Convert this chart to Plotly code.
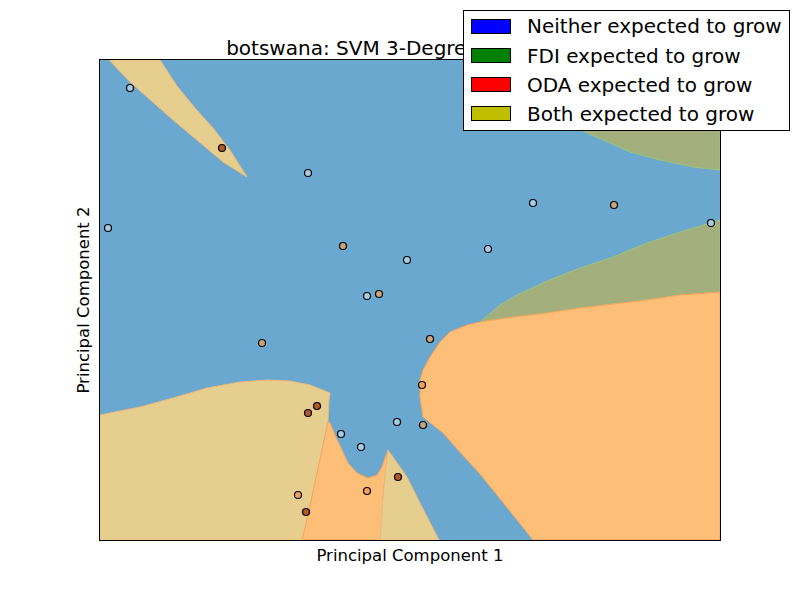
import plotly.graph_objects as go

# ---------------- data ----------------
class_names = ["Neither expected to grow", "FDI expected to grow",
               "ODA expected to grow", "Both expected to grow"]
legend_colors = ["#0000ff", "#008000", "#ff0000", "#bfbf00"]
point_colors = ["#a6cee3", "#c9a47c", "#f3a05a", "#b15928"]

point_x = [-2.80, -1.88, -1.02, -3.02, -0.67, -0.03, 0.78, 1.23, 2.04, 3.01,
           -0.43, -0.31, 0.20, -1.48, 0.12, -0.93, -1.02, -0.69, -0.49, -0.13,
           0.13, -0.12, -0.43, -1.12, -1.04]
point_y = [2.12, 1.52, 1.27, 0.72, 0.54, 0.40, 0.51, 0.97, 0.95, 0.77,
           0.04, 0.06, -0.39, -0.43, -0.85, -1.06, -1.13, -1.34, -1.47, -1.22,
           -1.25, -1.77, -1.91, -1.95, -2.12]
point_class = [0, 3, 0, 0, 1, 0, 0, 0, 1, 0,
               0, 1, 1, 1, 2, 3, 3, 0, 0, 0,
               1, 3, 2, 2, 3]

# decision regions (predicted class areas), background = class 0
region_fill = {0: "#6aa8d0", 1: "#a3b07e", 2: "#fdbf78", 3: "#e6cf8e"}
region_edge = {1: "#9cc47e", 2: "#f7a45e", 3: "#eeb87c"}

tanA_x = [-3.01, -2.50, -2.33, -2.15, -1.97, -1.80, -1.63, -1.87, -2.37, -2.80]
tanA_y = [2.40, 2.40, 2.14, 1.92, 1.72, 1.50, 1.23, 1.38, 1.80, 2.18]

oliveB_x = [0.80, 3.10, 3.10, 2.83, 2.50, 2.20, 1.75, 1.35, 1.00]
oliveB_y = [2.40, 2.40, 1.30, 1.33, 1.40, 1.48, 1.68, 1.90, 2.20]

oliveC_x = [0.70, 1.03, 1.37, 1.70, 2.03, 2.37, 2.70, 3.10, 3.10, 2.70, 2.37,
            2.03, 1.70, 1.37, 1.07, 0.90]
oliveC_y = [-0.22, -0.17, -0.13, -0.08, -0.04, 0.00, 0.05, 0.08, 0.80, 0.68, 0.57,
            0.43, 0.32, 0.19, 0.05, -0.05]

orangeD_x = [3.10, 2.70, 2.37, 2.03, 1.70, 1.37, 1.03, 0.70, 0.57, 0.40, 0.30,
             0.20, 0.13, 0.10, 0.10, 0.13, 0.23, 0.33, 0.48, 0.70, 0.95, 1.23, 3.10]
orangeD_y = [0.08, 0.05, 0.00, -0.04, -0.08, -0.13, -0.17, -0.22, -0.25, -0.32, -0.42,
             -0.57, -0.70, -0.80, -0.97, -1.17, -1.25, -1.33, -1.50, -1.74, -2.05, -2.40, -2.40]

tanE_x = [-3.10, -2.70, -2.37, -2.03, -1.70, -1.43, -1.20, -1.00, -0.80, -0.81,
          -0.82, -0.90, -0.98, -1.03, -1.08, -3.10]
tanE_y = [-1.15, -1.07, -0.98, -0.88, -0.82, -0.80, -0.81, -0.85, -0.93, -1.00,
          -1.22, -1.60, -1.97, -2.20, -2.40, -2.40]

orangeF_x = [-0.82, -0.80, -0.75, -0.68, -0.62, -0.53, -0.42, -0.33, -0.28, -0.25,
             -0.22, -0.24, -0.27, -0.30, -1.08, -1.03, -0.98, -0.90]
orangeF_y = [-1.22, -1.23, -1.35, -1.50, -1.63, -1.73, -1.78, -1.75, -1.67, -1.58,
             -1.50, -1.67, -1.97, -2.40, -2.40, -2.20, -1.97, -1.60]

tanG_x = [-0.22, -0.17, -0.03, 0.10, 0.20, 0.29, -0.30, -0.27, -0.24]
tanG_y = [-1.50, -1.57, -1.77, -2.03, -2.23, -2.40, -2.40, -1.97, -1.67]

regions = [(tanA_x, tanA_y, 3), (oliveB_x, oliveB_y, 1), (oliveC_x, oliveC_y, 1),
           (orangeD_x, orangeD_y, 2), (tanE_x, tanE_y, 3), (orangeF_x, orangeF_y, 2),
           (tanG_x, tanG_y, 3)]

x_range = [-3.1, 3.1]
y_range = [-2.4, 2.4]

title_text = "botswana: SVM 3-Degree Polynomial"
FONT = "DejaVu Sans"

# ---------------- figure ----------------
fig = go.Figure()

for rx, ry, cls in regions:
    fig.add_trace(go.Scatter(
        x=rx + [rx[0]], y=ry + [ry[0]], mode="lines", fill="toself",
        fillcolor=region_fill[cls], line=dict(color=region_edge[cls], width=1),
        hoverinfo="skip", showlegend=False))

fig.add_trace(go.Scatter(
    x=point_x, y=point_y, mode="markers",
    marker=dict(size=7, color=[point_colors[c] for c in point_class],
                line=dict(color="black", width=1.2)),
    text=[class_names[c] for c in point_class],
    showlegend=False, cliponaxis=False))

axis_common = dict(showgrid=False, zeroline=False, showticklabels=False, ticks="",
                   showline=True, mirror=True, linecolor="black", linewidth=1.3)

fig.update_layout(
    width=800, height=600,
    margin=dict(l=100, r=80, t=60, b=60),
    paper_bgcolor="white", plot_bgcolor=region_fill[0],
    font=dict(family=FONT, color="black"),
    title=dict(text=title_text, x=0.5, xref="paper", xanchor="center",
               y=1, yref="paper", yanchor="bottom", pad=dict(b=5),
               font=dict(size=20, family=FONT, color="black")),
    xaxis=dict(range=x_range, title=dict(text="Principal Component 1", standoff=9,
                                          font=dict(size=16.5)), **axis_common),
    yaxis=dict(range=y_range, title=dict(text="Principal Component 2", standoff=5,
                                          font=dict(size=16.5)), **axis_common),
    showlegend=False,
)

# ---------------- legend (drawn as annotations) ----------------
def px_x(p):
    return (p - 100) / 620.0

def px_y(p):
    return (540 - p) / 480.0

annotations = [dict(xref="paper", yref="paper", x=px_x(463), y=px_y(10),
                    xanchor="left", yanchor="top", text=" ", showarrow=False,
                    width=325, height=119, bgcolor="white", bordercolor="black",
                    borderwidth=1, borderpad=0)]
row_tops = [19, 48, 77, 106]
for i, name in enumerate(class_names):
    annotations.append(dict(xref="paper", yref="paper", x=px_x(471), y=px_y(row_tops[i]),
                            xanchor="left", yanchor="top", text=" ", showarrow=False,
                            width=38, height=13, bgcolor=legend_colors[i],
                            bordercolor="black", borderwidth=1, borderpad=0))
    annotations.append(dict(xref="paper", yref="paper", x=px_x(525.5),
                            y=px_y(row_tops[i] + 7.5), xanchor="left", yanchor="middle",
                            text=name, showarrow=False, borderpad=0,
                            font=dict(size=20, family=FONT, color="black")))
fig.update_layout(annotations=annotations)

fig.write_html("out.html")
